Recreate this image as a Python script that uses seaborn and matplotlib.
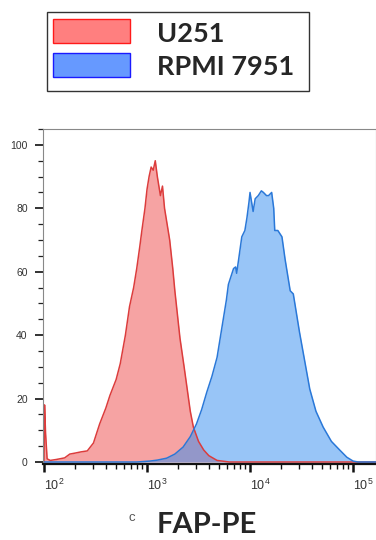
"""
FAP-PE flow cytometry overlay: U251 vs RPMI 7951.
"""

import numpy as np
import pandas as pd
import matplotlib.pyplot as plt
from matplotlib.patches import Rectangle
from matplotlib.ticker import MultipleLocator, LogLocator
import seaborn as sns

# fluorescence intensity as log10 exponent, counts as % of max
u251_log = [2.00, 2.005, 2.015, 2.03, 2.06, 2.12, 2.20, 2.25, 2.30, 2.36, 2.42,
            2.48, 2.54, 2.60, 2.64, 2.70, 2.74, 2.79, 2.83, 2.87, 2.90, 2.93,
            2.95, 2.98, 3.00, 3.02, 3.04, 3.06, 3.08, 3.10, 3.11, 3.13, 3.15,
            3.17, 3.20, 3.22, 3.25, 3.27, 3.30, 3.32, 3.36, 3.39, 3.42, 3.45,
            3.50, 3.55, 3.60, 3.68, 3.80, 5.23]
u251_pct = [0, 18, 9, 1, 0.5, 0.8, 1.3, 2.5, 2.8, 3.2, 3.5,
            6, 12, 17, 21, 26, 31, 40, 49, 55, 61, 68,
            73, 80, 86, 90, 93, 92, 95, 90, 88, 84, 87,
            80, 74, 70, 61, 54, 45, 39, 30, 23, 16, 11,
            6.5, 3.8, 2, 0.5, 0, 0]

rpmi_log = [2.00, 2.90, 3.03, 3.10, 3.19, 3.27, 3.35, 3.42, 3.48, 3.53, 3.58,
            3.63, 3.68, 3.71, 3.74, 3.77, 3.79, 3.82, 3.84, 3.86, 3.87, 3.89,
            3.92, 3.95, 3.97, 3.99, 4.00, 4.02, 4.03, 4.05, 4.08, 4.11, 4.13,
            4.16, 4.18, 4.21, 4.23, 4.24, 4.27, 4.31, 4.34, 4.37, 4.39, 4.42,
            4.45, 4.48, 4.53, 4.58, 4.64, 4.71, 4.79, 4.87, 4.94, 5.00, 5.05,
            5.23]
rpmi_pct = [0, 0, 0.3, 0.6, 1.2, 2.5, 4.7, 8, 12, 16.5, 22,
            27, 33, 39, 45, 51, 56, 59, 61, 61.5, 59.5, 64,
            71, 73, 77, 82, 85, 81, 79, 83, 84, 85.5, 85,
            84, 84, 85, 80, 73, 73, 71, 64, 58, 54, 53,
            47, 41, 32, 23, 16, 11, 6.5, 3.8, 1.5, 0.3, 0,
            0]

series_names = ["U251", "RPMI 7951"]

u251 = pd.DataFrame({"x": np.power(10.0, u251_log), "y": u251_pct})
rpmi = pd.DataFrame({"x": np.power(10.0, rpmi_log), "y": rpmi_pct})

sns.set_style("white")
plt.rcParams["font.family"] = ["Liberation Sans", "DejaVu Sans"]

fig = plt.figure(figsize=(3.76, 5.40), dpi=100)
ax = fig.add_axes([43 / 376, 0.1415, 333 / 376, 0.6196])

# U251 (red, solid fill)
ax.fill_between(u251["x"], u251["y"], 0, color="#f6a3a3", linewidth=0)
sns.lineplot(data=u251, x="x", y="y", color="#dc3c3c", linewidth=1.1,
             sort=False, estimator=None, ax=ax)

# RPMI 7951 (blue, translucent fill on top)
ax.fill_between(rpmi["x"], rpmi["y"], 0, color="#328cf0", alpha=0.5, linewidth=0)
sns.lineplot(data=rpmi, x="x", y="y", color="#2a78d8", linewidth=1.1,
             sort=False, estimator=None, ax=ax)

ax.set_xscale("log")
ax.set_xlim(10 ** 1.99, 10 ** 5.223)
ax.set_ylim(-0.5, 105)
ax.set_xlabel("")
ax.set_ylabel("")

ax.xaxis.set_major_locator(LogLocator(base=10, numticks=10))
ax.xaxis.set_minor_locator(LogLocator(base=10, subs=np.arange(2, 10), numticks=20))
ax.yaxis.set_major_locator(MultipleLocator(20))
ax.yaxis.set_minor_locator(MultipleLocator(5))

ax.tick_params(axis="y", which="major", direction="out", length=6, width=1.3,
               color="#222222", labelsize=7.5, labelcolor="#333333", pad=5, left=True)
ax.tick_params(axis="y", which="minor", direction="out", length=3.5, width=0.9,
               color="#222222", left=True)
ax.tick_params(axis="x", which="major", direction="out", length=6, width=1.8,
               color="#111111", labelsize=9, labelcolor="#333333", pad=4, bottom=True)
ax.tick_params(axis="x", which="minor", direction="out", length=3.5, width=1.0,
               color="#111111", bottom=True)
for lab in ax.get_xticklabels():
    lab.set_horizontalalignment("left")

for side in ["top", "right", "left"]:
    ax.spines[side].set_color("#888888")
    ax.spines[side].set_linewidth(0.8)
ax.spines["bottom"].set_color("#111111")
ax.spines["bottom"].set_linewidth(1.6)

# axis title
fig.text(132 / 376, 1 - 518 / 540, "c", fontsize=9.5, color="#555555",
         ha="center", va="center")
fig.text(207 / 376, 1 - 525 / 540, "FAP-PE", fontsize=21, fontweight="bold",
         family=["Lato", "DejaVu Sans"], ha="center", va="center")

# legend box
W, H = 376, 540
fig.add_artist(Rectangle((47 / W, 1 - 91 / H), 262 / W, 79 / H, transform=fig.transFigure,
                         facecolor="white", edgecolor="#333333", linewidth=1.0))
fig.add_artist(Rectangle((53 / W, 1 - 43 / H), 77 / W, 24 / H, transform=fig.transFigure,
                         facecolor="#ff7f7f", edgecolor="#ff1a1a", linewidth=1.0))
fig.add_artist(Rectangle((53 / W, 1 - 77 / H), 77 / W, 24 / H, transform=fig.transFigure,
                         facecolor="#6699ff", edgecolor="#1a1aff", linewidth=1.0))
fig.text(157 / W, 1 - 34 / H, series_names[0], fontsize=19.5, fontweight="bold",
         family=["Lato", "DejaVu Sans"], ha="left", va="center")
fig.text(157 / W, 1 - 67 / H, series_names[1], fontsize=19.5, fontweight="bold",
         family=["Lato", "DejaVu Sans"], ha="left", va="center")

fig.savefig("out.png", dpi=100)
